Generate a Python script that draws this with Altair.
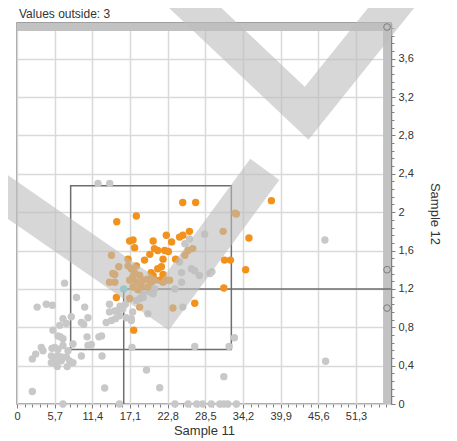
import altair as alt
import pandas as pd

# ---------------- data ----------------
title_text = "Values outside: 3"

gray_x = [12.26, 14.03, 7.2, 9.0, 3.05, 4.43, 5.35, 10.24, 6.96, 8.22, 9.74, 10.1, 10.74,
          6.46, 5.45, 7.47, 6.2, 6.56, 6.96, 10.6, 12.4, 12.8, 3.68, 3.94, 5.3, 5.7, 6.2,
          6.96, 7.72, 8.47, 10.74, 11.25, 2.83, 2.32, 5.2, 5.7, 6.2, 6.7, 5.2, 5.96, 6.7,
          7.47, 7.97, 8.47, 6.1, 7.6, 9.74, 12.87, 2.32, 13.27, 6.96, 15.5, 17.4, 19.6,
          21.6, 23.9, 25.9, 27.2, 28.1, 29.4, 30.7, 31.3, 31.9, 33.2, 31.3, 26.9, 32.1,
          32.9, 46.6, 46.7, 26.1, 28.4, 25.4, 24.6, 26.4, 26.9, 24.9, 27.6, 29.2, 29.5,
          23.9, 24.9, 25.1, 19.8, 20.6, 19.07, 20.1, 20.8, 18.6, 19.1, 13.5, 14.3, 14.9,
          14.0, 14.8, 15.5, 16.0, 16.55, 17.3, 17.5, 14.0, 15.6, 16.4, 18.06, 17.3, 15.14]
gray_y = [2.30, 2.30, 1.26, 1.11, 1.01, 1.04, 1.03, 1.01, 0.89, 0.91, 0.85, 0.83, 0.90,
          0.82, 0.77, 0.84, 0.71, 0.70, 0.68, 0.70, 0.70, 0.71, 0.59, 0.555, 0.58, 0.59, 0.57,
          0.61, 0.555, 0.625, 0.61, 0.62, 0.52, 0.47, 0.50, 0.47, 0.50, 0.49, 0.43, 0.42, 0.45,
          0.49, 0.45, 0.43, 0.39, 0.39, 0.50, 0.50, 0.13, 0.167, 0.0, 0.0, 0.59, 0.355,
          0.17, 0.0, 0.0, 0.0, 0.0, 0.0, 0.0, 0.0, 0.0, 0.0, 0.285, 0.60, 0.60,
          0.69, 1.71, 0.445, 1.72, 1.77, 1.67, 1.48, 1.41, 1.39, 1.37, 1.34, 1.36, 1.38,
          1.20, 1.27, 1.01, 0.94, 1.15, 1.15, 1.17, 1.20, 1.10, 1.11, 0.85, 0.87, 0.89,
          0.96, 0.97, 0.92, 0.99, 0.90, 0.89, 0.96, 1.04, 1.02, 1.04, 1.08, 0.87, 0.97]

orange_x = [15.1, 18.06, 25.08, 27.04, 38.5, 17.05, 17.56, 17.8, 20.6, 22.6, 23.4, 24.6,
            25.1, 26.1, 35.1, 20.8, 21.3, 22.35, 22.9, 20.1, 19.3, 22.1, 24.0, 18.06, 21.3,
            21.85, 20.3, 20.6, 22.1, 16.8, 31.4, 32.3, 34.6, 31.3, 26.9, 17.66, 15.04,
            14.3, 15.4, 14.5, 14.8, 14.0, 14.8, 16.8, 17.3, 17.8, 17.56, 18.57, 19.07, 19.7,
            20.3, 20.8, 21.6, 22.1, 23.1, 17.05, 18.06, 18.8, 19.8, 17.56, 18.3, 17.05,
            18.57, 23.6, 25.9, 26.6, 25.4, 31.2, 33.2, 33.0, 22.6]
orange_y = [1.90, 1.96, 2.10, 2.10, 2.12, 1.70, 1.71, 1.63, 1.70, 1.76, 1.69, 1.74,
            1.76, 1.80, 1.73, 1.62, 1.60, 1.60, 1.59, 1.56, 1.50, 1.51, 1.51, 1.44, 1.41,
            1.43, 1.37, 1.34, 1.35, 1.51, 1.50, 1.50, 1.40, 1.21, 1.05, 0.77, 1.11,
            1.55, 1.43, 1.36, 1.35, 1.27, 1.27, 1.44, 1.41, 1.37, 1.33, 1.34, 1.29, 1.30,
            1.27, 1.29, 1.29, 1.27, 1.29, 1.29, 1.27, 1.23, 1.22, 1.22, 1.19, 1.10,
            1.01, 1.00, 1.60, 1.62, 1.55, 1.80, 1.98, 1.99, 1.29]

selected_x = [16.15]
selected_y = [1.2]

# selection box and crosshair
box_x = [8.12]
box_x2 = [32.44]
box_y = [0.567]
box_y2 = [2.275]

# scroll bars (top and right) and their handles
bar_x = [0.0, 55.4]
bar_x2 = [56.6, 56.6]
bar_y = [3.888, 0.0]
bar_y2 = [3.972, 3.972]
handle_x = [56.0, 56.0, 56.0]
handle_y = [3.93, 1.40, 1.00]

# watermark check marks (polyline vertices in data units)
wm_group = ["a", "a", "a", "b", "b", "b"]
wm_order = [0, 1, 2, 0, 1, 2]
wm_x = [-7.2, 22.35, 37.5, 22.5, 43.84, 60.0]
wm_y = [2.435, 1.026, 2.446, 4.42, 3.03, 4.42]

x_ticks = [0, 5.7, 11.4, 17.1, 22.8, 28.5, 34.2, 39.9, 45.6, 51.3]
y_ticks = [0, 0.4, 0.8, 1.2, 1.6, 2, 2.4, 2.8, 3.2, 3.6]
x_minor = [round(i * 1.14, 3) for i in range(50) if i % 5 != 0]
y_minor = [round(i * 0.08, 3) for i in range(50) if i % 5 != 0 and i * 0.08 < 3.97]

X_MAX = 56.6
Y_MAX = 3.972
W, H = 374, 381
FONT = "Liberation Sans"

# ---------------- tables ----------------
pts = pd.DataFrame({
    "x": gray_x + orange_x + selected_x,
    "y": gray_y + orange_y + selected_y,
    "g": ["gray"] * len(gray_x) + ["orange"] * len(orange_x) + ["sel"] * len(selected_x),
})
bars = pd.DataFrame({"x": bar_x, "x2": bar_x2, "y": bar_y, "y2": bar_y2})
box = pd.DataFrame({"x": box_x, "x2": box_x2, "y": box_y, "y2": box_y2})
cross = pd.DataFrame({
    "x": [selected_x[0], selected_x[0]],
    "x2": [X_MAX, selected_x[0]],
    "y": [selected_y[0], 0.0],
    "y2": [selected_y[0], selected_y[0]],
})
handles = pd.DataFrame({"x": handle_x, "y": handle_y})
wm = pd.DataFrame({"g": wm_group, "o": wm_order, "x": wm_x, "y": wm_y})
ttl = pd.DataFrame({"t": [title_text]})

xs = alt.Scale(domain=[0, X_MAX], nice=False, zero=False)
ys = alt.Scale(domain=[0, Y_MAX], nice=False, zero=False)
lab = "replace(toString(datum.value), '.', ',')"

x_major = alt.Axis(values=x_ticks, labelExpr=lab, title="Sample 11", orient="bottom",
                   grid=True, domain=False, tickSize=4, labelPadding=2, titlePadding=3,
                   labelOverlap=False, labelFlush=False, labelBound=False)
y_major = alt.Axis(values=y_ticks, labelExpr=lab, title="Sample 12", orient="right",
                   grid=True, domain=True, tickSize=4, labelPadding=3, titlePadding=14,
                   labelOverlap=False, labelFlush=False, labelBound=False)
x_min = alt.Axis(values=x_minor, labels=False, title=None, orient="bottom", grid=False,
                 domain=False, tickSize=3)
y_min = alt.Axis(values=y_minor, labels=False, title=None, orient="right", grid=False,
                 domain=False, tickSize=3)

bar_layer = alt.Chart(bars).mark_rect(color="#c2c2c2").encode(
    x=alt.X("x:Q", scale=xs, axis=x_major), x2="x2:Q",
    y=alt.Y("y:Q", scale=ys, axis=y_major), y2="y2:Q",
)
box_layer = alt.Chart(box).mark_rect(fillOpacity=0, stroke="#6e6e6e", strokeWidth=1.5).encode(
    x=alt.X("x:Q", scale=xs, axis=None), x2="x2:Q",
    y=alt.Y("y:Q", scale=ys, axis=None), y2="y2:Q",
)
cross_layer = alt.Chart(cross).mark_rule(color="#6e6e6e", strokeWidth=1.5).encode(
    x=alt.X("x:Q", scale=xs, axis=None), x2="x2:Q",
    y=alt.Y("y:Q", scale=ys, axis=None), y2="y2:Q",
)
pt_layer = alt.Chart(pts).mark_circle(size=55, opacity=1).encode(
    x=alt.X("x:Q", scale=xs, axis=x_min),
    y=alt.Y("y:Q", scale=ys, axis=y_min),
    color=alt.Color("g:N", scale=alt.Scale(domain=["gray", "orange", "sel"],
                                           range=["#c8c8c8", "#f2921d", "#74d2d8"]),
                    legend=None),
)
wm_layer = alt.Chart(wm).mark_line(color="#bcbcbc", opacity=0.6, strokeWidth=36,
                                   strokeJoin="miter", strokeCap="butt").encode(
    x=alt.X("x:Q", scale=xs, axis=None),
    y=alt.Y("y:Q", scale=ys, axis=None),
    detail="g:N", order="o:Q",
)
handle_layer = alt.Chart(handles).mark_point(size=45, filled=False, color="#606060",
                                             strokeWidth=1).encode(
    x=alt.X("x:Q", scale=xs, axis=None),
    y=alt.Y("y:Q", scale=ys, axis=None),
)
title_layer = alt.Chart(ttl).mark_text(align="left", baseline="alphabetic", font=FONT,
                                       fontSize=12, color="#333333").encode(
    x=alt.value(2), y=alt.value(-5.5), text="t:N",
)

chart = alt.layer(bar_layer, box_layer, cross_layer, pt_layer, wm_layer, handle_layer,
                  title_layer).resolve_axis(
    x="independent", y="independent"
).properties(
    width=W, height=H,
    autosize=alt.AutoSizeParams(type="none"),
    padding={"left": 9, "top": 15, "right": 58, "bottom": 36},
).configure_view(
    stroke="#808080", strokeWidth=1.5
).configure_axis(
    gridColor="#d9d9d9", gridWidth=1.5, tickColor="#808080", domainColor="#808080",
    domainWidth=1.5, labelFont=FONT, labelFontSize=11, labelColor="#333333",
    titleFont=FONT, titleFontSize=13, titleFontWeight="normal", titleColor="#333333",
    labelOverlap=False,
)

chart.save("out.html", embed_options={"renderer": "svg", "actions": False})
